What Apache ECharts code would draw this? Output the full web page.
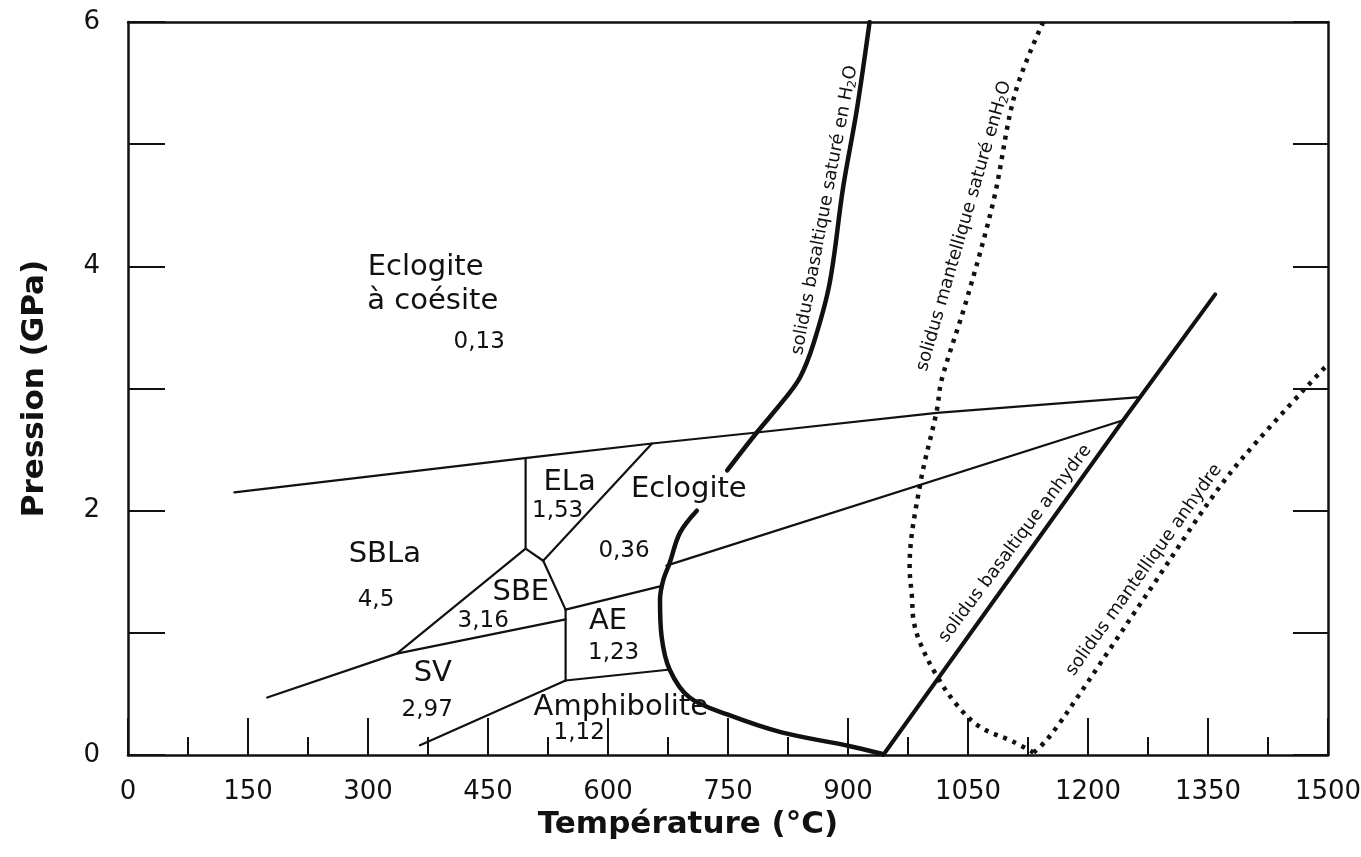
<!DOCTYPE html>
<html><head><meta charset="utf-8">
<script src="https://cdn.jsdelivr.net/npm/echarts@6/dist/echarts.min.js"></script>
<style>html,body{margin:0;padding:0;background:#fff}#c{width:1361px;height:857px}</style>
</head><body><div id="c"></div>
<script>
// ---------- data (Température °C, Pression GPa) ----------
const basaltWetUpper = [[927,6.0],[911,5.28],[894,4.65],[877,3.86],[857,3.37],[840,3.09],[819,2.9],[786,2.64],[749,2.33]];
const basaltWetLower = [[711,2.0],[690,1.82],[677,1.57],[669,1.43],[665,1.27],[667,0.97],[677,0.70],[702,0.47],[750,0.33],[817,0.185],[900,0.076],[942,0.01]];
const basaltDrySolidus = [[944,0],[1244,2.74],[1359,3.77]];
const mantleWetSolidus = [[1144,6.0],[1109,5.42],[1082,4.54],[1048,3.72],[1017,3.07],[1011,2.82],[990,2.21],[977,1.54],[980,1.29],[982,1.10],[990,0.92],[1009,0.67],[1036,0.41],[1065,0.23],[1106,0.11],[1132,0.02]];
const mantleDrySolidus = [[1132,0.02],[1148,0.12],[1173,0.34],[1274,1.32],[1378,2.31],[1500,3.2]];

const bCoesite  = [[133,2.15],[496,2.43],[655,2.55],[786,2.64],[1011,2.80],[1265,2.93]];
const bELaSBLa  = [[497,2.43],[497,1.69]];
const bSBLaSBE  = [[336,0.83],[497,1.69],[519,1.59]];
const bELaEclo  = [[519,1.59],[655,2.55]];
const bSBEEclo  = [[519,1.59],[547,1.19]];
const bSVSBE    = [[174,0.47],[336,0.83],[547,1.11]];
const bSVAE     = [[547,1.19],[547,0.61]];
const bAEEclo   = [[547,1.19],[665,1.38]];
const bAEAmph   = [[547,0.61],[678,0.70]];
const bSVAmph   = [[365,0.08],[547,0.61]];
const bEcloHigh = [[673,1.55],[1244,2.74]];

const regionNames  = ['Eclogite','à coésite','ELa','Eclogite','SBLa','SBE','AE','SV','Amphibolite'];
const regionNamePos = [[372,3.99],[381,3.71],[552,2.23],[701,2.17],[321,1.64],[491,1.33],[600,1.09],[381,0.67],[616,0.39]];
const regionValues = ['0,13','1,53','0,36','4,5','3,16','1,23','2,97','1,12'];
const regionValuePos = [[439,3.38],[537,2.00],[620,1.67],[310,1.27],[444,1.10],[607,0.835],[374,0.37],[564,0.18]];

const curveTexts = ['solidus basaltique saturé en H{s|2}O','solidus mantellique saturé enH{s|2}O','solidus basaltique anhydre','solidus mantellique anhydre'];
const curveTextPos = [[871,4.46],[1045,4.33],[1109,1.73],[1270,1.514]];
const curveTextAngle = [79.3,73.8,53.1,54.5];

// ---------- chart ----------
const FONT = 'DejaVu Sans';
const INK = '#111';
const chart = echarts.init(document.getElementById('c'), null, {renderer:'canvas'});

function line(data, width, dotted, smooth){
  return {type:'line', data:data, xAxisIndex:0, yAxisIndex:0, showSymbol:false, symbol:'none',
    smooth: smooth || false, silent:true, animation:false, z:3,
    lineStyle:{color:INK, width:width, type: dotted ? [4,6] : 'solid', cap: dotted ? 'butt' : 'round', join:'round'}};
}
const thin = 2.2;
const series = [
  line(basaltWetUpper, 4.5, false, 0.35), line(basaltWetLower, 4.5, false, 0.35),
  line(basaltDrySolidus, 4), line(mantleWetSolidus, 4.5, true, 0.35), line(mantleDrySolidus, 4.5, true, 0.3),
  line(bCoesite, thin), line(bELaSBLa, thin), line(bSBLaSBE, thin), line(bELaEclo, thin), line(bSBEEclo, thin),
  line(bSVSBE, thin), line(bSVAE, thin), line(bAEEclo, thin), line(bAEAmph, thin), line(bSVAmph, thin), line(bEcloHigh, thin)
];

function textSeries(data, fontSize, extra){
  return Object.assign({type:'scatter', symbolSize:0, silent:true, animation:false, z:5,
    itemStyle:{opacity:1, color:'rgba(0,0,0,0)'},
    data:data,
    label:Object.assign({show:true, position:'inside', formatter:p=>p.name, color:INK, opacity:1,
      fontFamily:FONT, fontSize:fontSize}, extra || {})});
}
series.push(textSeries(regionNames.map((n,i)=>({name:n, value:regionNamePos[i]})), 29));
series.push(textSeries(regionValues.map((n,i)=>({name:n, value:regionValuePos[i]})), 23));
series.push(textSeries(curveTexts.map((n,i)=>({name:n, value:curveTextPos[i], label:{rotate:curveTextAngle[i]}})), 18,
  {rich:{s:{fontSize:12, fontFamily:FONT, color:INK, padding:[8,0,0,0]}}}));

chart.setOption({
  backgroundColor:'#fff',
  animation:false,
  grid:{left:128, right:33, top:22, bottom:102, outerBoundsMode:'none', containLabel:false},
  xAxis:[{
    type:'value', min:0, max:1500, interval:150, position:'bottom',
    name:'Température (°C)', nameLocation:'middle', nameGap:46,
    nameTextStyle:{fontFamily:FONT, fontSize:31, fontWeight:'bold', color:INK, padding:[0,80,0,0]},
    axisLine:{show:true, onZero:false, lineStyle:{color:INK, width:2.5}},
    axisTick:{show:true, inside:true, length:37, lineStyle:{color:INK, width:2}},
    minorTick:{show:true, splitNumber:2, length:18, lineStyle:{color:INK, width:2}},
    axisLabel:{fontFamily:FONT, fontSize:26, color:INK, margin:24, formatter:v => String(v)},
    splitLine:{show:false}, minorSplitLine:{show:false}
  },{
    type:'value', min:0, max:1500, position:'top',
    axisLine:{show:true, onZero:false, lineStyle:{color:INK, width:2.5}},
    axisTick:{show:false}, axisLabel:{show:false}, splitLine:{show:false}
  }],
  yAxis:[{
    type:'value', min:0, max:6, interval:1, position:'left',
    name:'Pression (GPa)', nameLocation:'middle', nameGap:78, nameRotate:90,
    nameTextStyle:{fontFamily:FONT, fontSize:31, fontWeight:'bold', color:INK},
    axisLine:{show:true, onZero:false, lineStyle:{color:INK, width:2.5}},
    axisTick:{show:true, inside:true, length:37, lineStyle:{color:INK, width:2}},
    axisLabel:{fontFamily:FONT, fontSize:26, color:INK, margin:28, formatter:v => (v%2===0 ? String(v) : '')},
    splitLine:{show:false}
  },{
    type:'value', min:0, max:6, interval:1, position:'right',
    axisLine:{show:true, onZero:false, lineStyle:{color:INK, width:2.5}},
    axisTick:{show:true, inside:true, length:35, lineStyle:{color:INK, width:2}},
    axisLabel:{show:false}, splitLine:{show:false}
  }],
  series:series
});
</script></body></html>
